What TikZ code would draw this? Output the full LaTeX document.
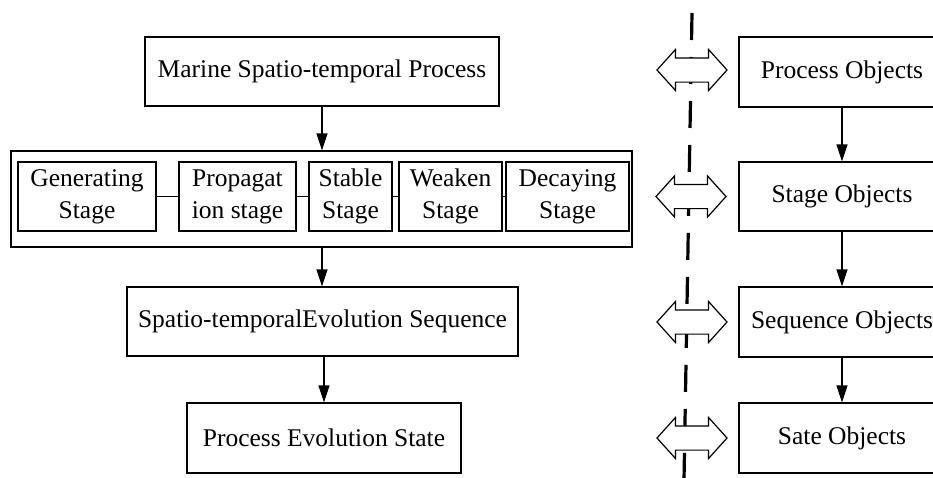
\documentclass[tikz,border=0pt]{standalone}
\usepackage{fontspec}
\setmainfont{Liberation Serif}
\usepackage{tikz}
\usetikzlibrary{positioning}
\usetikzlibrary{shapes.arrows, arrows.meta, calc}

\tikzset{
  box/.style={draw, line width=1.2pt, inner sep=0pt, align=center,
    font=\fontsize{25.5}{32}\selectfont},
  arr/.style={line width=1.2pt, -{Triangle[length=17pt,width=11pt]}},
  dblarr/.style={shape=double arrow, draw, fill=white, line width=1.2pt,
    inner sep=0pt, inner ysep=11.5pt, minimum height=70pt,
    double arrow head extend=8.5pt, double arrow tip angle=96},
}

\begin{document}
\begin{tikzpicture}[x=1pt, y=-1pt]
    \clip (0,0) rectangle (933,477);

    % left column
    \node[box, minimum width=354pt, minimum height=69pt] (marine) at (322,71.5) {Marine Spatio-temporal Process};
    \node[box, minimum width=621pt, minimum height=96pt] (stages) at (321.5,199) {};
    \node[box, minimum width=391pt, minimum height=69pt] (sequence) at (322.5,321.5) {Spatio-temporalEvolution Sequence};
    \node[box, minimum width=274pt, minimum height=70pt] (state) at (324,438) {Process Evolution State};

    % stages
    \node[box, minimum width=138pt, minimum height=69pt] (gen) at (87,196.5) {Generating\\Stage};
    \node[box, minimum width=117pt, minimum height=69pt] (prop) at (237.5,196.5) {Propagat\\ion stage};
    \node[box, minimum width=83pt, minimum height=69pt] (stable) at (350.5,196.5) {Stable\\Stage};
    \node[box, minimum width=103pt, minimum height=69pt] (weaken) at (450.5,196.5) {Weaken\\Stage};
    \node[box, minimum width=123pt, minimum height=69pt] (decay) at (567.5,196.5) {Decaying\\Stage};
    \draw[line width=1.2pt] (gen) -- (prop);
    \draw[line width=1.2pt] (prop) -- (stable);
    \draw[line width=1.2pt] (stable) -- (weaken);
    \draw[line width=1.2pt] (weaken) -- (decay);

    \draw[arr] (marine.south) -- (marine.south |- stages.north);
    \draw[arr] (marine.south |- stages.south) -- (marine.south |- sequence.north);
    \draw[arr] (sequence.south -| state.north) -- (state.north);

    % right column
    \node[box, minimum width=206pt, minimum height=70pt] (procobj) at (842,72) {Process Objects};
    \node[box, minimum width=206pt, minimum height=69pt] (stageobj) at (842,196.5) {Stage Objects};
    \node[box, minimum width=206pt, minimum height=70pt] (seqobj) at (842,322) {Sequence Objects};
    \node[box, minimum width=206pt, minimum height=70pt] (stateobj) at (842,438) {Sate Objects};

    \draw[arr] (procobj) -- (stageobj);
    \draw[arr] (stageobj) -- (seqobj);
    \draw[arr] (seqobj) -- (stateobj);

    % divider
    \coordinate (top) at (692,13);
    \coordinate (bottom) at (684,480);
    \draw[line width=3.2pt, dash pattern=on 27pt off 17pt] (top) -- (bottom);

    \node[dblarr] (a1) at (692,70) {};
    \node[dblarr] (a2) at (691,196.5) {};
    \node[dblarr] (a3) at (692,322) {};
    \node[dblarr] (a4) at (692,438) {};
\end{tikzpicture}
\end{document}
